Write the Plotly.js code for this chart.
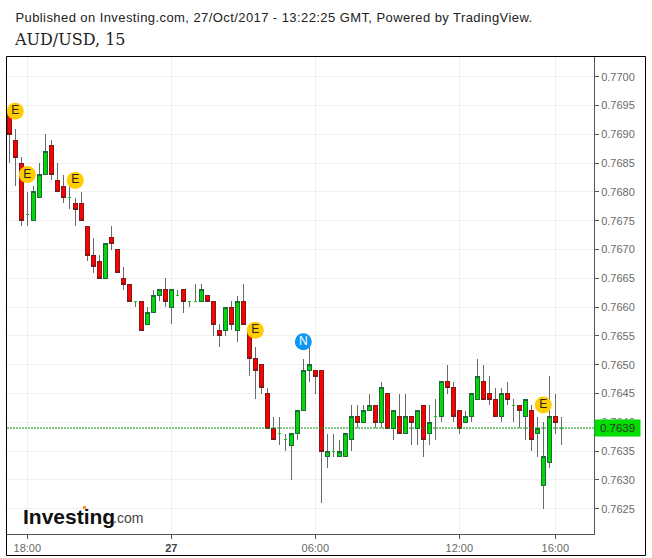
<!DOCTYPE html>
<html>
<head>
<meta charset="utf-8">
<script src="https://cdn.plot.ly/plotly-3.0.1.min.js"></script>
<style>
html,body{margin:0;padding:0;background:#fff}#chart{width:652px;height:558px}
.annotation[data-index="0"] text{letter-spacing:.42px}
.boxes path{shape-rendering:crispEdges}
</style>
</head>
<body>
<div id="chart"></div>
<script>
// Candle slot: 0 is 18:00 on the 26th, one slot is 15 minutes
const firstSlot = -3;
const openPips = [7694,7689,7685,7676,7675,7679,7683,7688,7682,7681,7679,7678,7678,7674,7669,7668,7665,7672,7670,7665,7664,7661,7661,7657,7659,7662,7663,7660,7662,7663,7661,7661,7661,7662,7661,7656,7656,7660,7656,7661,7656,7651,7650,7645,7639,7638,7637,7636,7638,7642,7649,7649,7649,7634,7635,7634,7634,7637,7641,7640,7642,7643,7640,7645,7639,7641,7638,7641,7639,7643,7638,7641,7641,7647,7646,7642,7640,7641,7644,7647,7645,7644,7641,7645,7643,7643,7641,7642,7638,7629,7633,7641,7639];
const highPips = [7695,7691,7686,7680,7681,7685,7690,7689,7685,7683,7681,7679,7680,7674,7672,7669,7671,7674,7670,7667,7664,7661,7661,7660,7663,7663,7665,7663,7663,7663,7661,7664,7664,7662,7661,7657,7660,7661,7662,7664,7656,7653,7650,7646,7641,7641,7638,7638,7642,7651,7653,7649,7649,7638,7638,7637,7638,7643,7643,7643,7645,7643,7647,7645,7642,7645,7645,7641,7642,7643,7643,7644,7647,7650,7647,7642,7642,7645,7651,7650,7648,7646,7646,7647,7644,7643,7644,7643,7641,7640,7648,7645,7641];
const lowPips = [7685,7681,7674,7674,7675,7679,7683,7682,7680,7678,7677,7674,7675,7668,7666,7665,7665,7670,7666,7663,7661,7660,7656,7657,7659,7661,7660,7657,7662,7659,7660,7661,7661,7661,7655,7653,7655,7656,7654,7657,7648,7644,7645,7639,7637,7636,7635,7630,7637,7642,7647,7645,7626,7632,7634,7634,7634,7635,7639,7640,7642,7639,7639,7639,7637,7638,7638,7636,7636,7634,7636,7637,7640,7645,7640,7638,7640,7640,7644,7644,7643,7641,7640,7643,7640,7639,7637,7635,7634,7625,7632,7638,7636];
const closePips = [7690,7686,7675,7676,7680,7683,7687,7683,7680,7679,7679,7677,7675,7669,7667,7665,7671,7671,7666,7664,7661,7661,7656,7659,7662,7663,7661,7663,7662,7661,7661,7661,7663,7661,7657,7655,7660,7657,7661,7657,7651,7649,7646,7639,7637,7638,7637,7638,7642,7649,7650,7648,7635,7635,7635,7635,7638,7641,7640,7642,7643,7640,7646,7639,7642,7638,7641,7640,7642,7637,7640,7641,7647,7646,7641,7639,7641,7645,7648,7644,7644,7641,7645,7644,7643,7642,7644,7637,7639,7634,7641,7640,7639];

const xTickSlots = [0, 24, 48, 72, 88];
const xTickLabels = ['18:00', '<b style="color:#444">27</b>', '06:00', '12:00', '16:00'];
const yTicks = [0.7625,0.7630,0.7635,0.7640,0.7645,0.7650,0.7655,0.7660,0.7665,0.7670,0.7675,0.7680,0.7685,0.7690,0.7695,0.7700];

const eventSlots = [-2, 0, 8, 38, 46, 86];
const eventPrices = [0.7694, 0.7683, 0.7682, 0.7656, 0.7654, 0.7643];
const eventLabels = ['E', 'E', 'E', 'E', 'N', 'E'];

const lastPrice = 0.7639;
const publishedText = 'Published on Investing.com, 27/Oct/2017 - 13:22:25 GMT, Powered by TradingView.';
const symbolText = 'AUD/USD, 15';

const slots = openPips.map((_, i) => firstSlot + i);
const price = v => v / 10000;
const open = openPips.map(price), high = highPips.map(price), low = lowPips.map(price), close = closePips.map(price);
const isDoji = slots.map((_, i) => openPips[i] === closePips[i]);
const pick = (arr, keep) => arr.filter((_, i) => isDoji[i] === keep);

const GREEN = '#00d80a', RED = '#ff0000';
const wicks = {
  type: 'candlestick', x: slots, open, high, low, close, whiskerwidth: 0, hoverinfo: 'skip',
  increasing: {line: {color: '#6a6a6a', width: 1}, fillcolor: '#6a6a6a'},
  decreasing: {line: {color: '#6a6a6a', width: 1}, fillcolor: '#6a6a6a'}
};
const bodyOpen = pick(open, false), bodyClose = pick(close, false);
const bodies = {
  type: 'candlestick', x: pick(slots, false), open: bodyOpen, close: bodyClose,
  high: bodyOpen.map((o, i) => Math.max(o, bodyClose[i])),
  low: bodyOpen.map((o, i) => Math.min(o, bodyClose[i])),
  whiskerwidth: 0,
  increasing: {line: {color: '#1d6b34', width: 1}, fillcolor: GREEN},
  decreasing: {line: {color: '#7d1a1a', width: 1}, fillcolor: RED}
};
const dojis = {
  type: 'candlestick', x: pick(slots, true), open: pick(open, true), close: pick(close, true),
  high: pick(close, true), low: pick(close, true), whiskerwidth: 0,
  increasing: {line: {color: GREEN, width: 1}, fillcolor: GREEN},
  decreasing: {line: {color: GREEN, width: 1}, fillcolor: GREEN}
};
const events = {
  type: 'scatter', mode: 'markers+text', x: eventSlots, y: eventPrices, text: eventLabels,
  textposition: 'middle center', cliponaxis: false,
  textfont: {family: 'Liberation Sans, Arial, sans-serif', size: 12,
             color: eventLabels.map(t => t === 'N' ? '#ffffff' : '#222222')},
  marker: {size: 17, color: eventLabels.map(t => t === 'N' ? '#0f96f0' : '#ffcc00'),
           line: {width: 0}}
};

const plotL = 7, plotR = 594, plotT = 57, plotB = 534;
const pw = plotR - plotL, ph = plotB - plotT;
const px = x => (x - plotL) / pw;
const py = y => (plotB - y) / ph;
const sans = 'Liberation Sans, Arial, sans-serif';

const layout = {
  width: 652, height: 558,
  margin: {l: plotL, r: 652 - plotR, t: plotT, b: 558 - plotB, pad: 0},
  paper_bgcolor: '#ffffff', plot_bgcolor: '#ffffff',
  showlegend: false, boxgap: 0.17, boxmode: 'overlay',
  title: {text: symbolText, x: 15 / 652, xanchor: 'left', y: 1 - 39 / 558, yanchor: 'middle',
          font: {family: 'DejaVu Serif, serif', size: 16, color: '#222222'}},
  xaxis: {
    type: 'linear', range: [(plotL - 27.3) / 6, (plotR - 27.3) / 6], rangeslider: {visible: false},
    tickmode: 'array', tickvals: xTickSlots, ticktext: xTickLabels,
    tickfont: {family: sans, size: 11, color: '#6a6a6a'},
    ticks: 'outside', ticklen: 4, tickcolor: '#555555',
    showgrid: true, gridcolor: '#f0f0f0', zeroline: false,
    showline: true, linecolor: '#555555', linewidth: 1
  },
  yaxis: {
    side: 'right', range: [0.7700 - (plotB - 76.7) / 57600, 0.7700 + (76.7 - plotT) / 57600],
    tickmode: 'array', tickvals: yTicks, tickformat: '.4f',
    tickfont: {family: sans, size: 11, color: '#6a6a6a'},
    ticks: 'outside', ticklen: 4, tickcolor: '#555555',
    showgrid: true, gridcolor: '#f0f0f0', zeroline: false,
    showline: true, linecolor: '#555555', linewidth: 1
  },
  shapes: [
    {type: 'line', xref: 'paper', yref: 'y', x0: 0, x1: 1, y0: lastPrice, y1: lastPrice,
     line: {color: '#009a08', width: 1, dash: '2px,1px'}},
    {type: 'rect', xref: 'paper', yref: 'paper', x0: px(6.5), x1: px(645.5), y0: py(555.5), y1: py(56.5),
     line: {color: '#000000', width: 1}, fillcolor: 'rgba(0,0,0,0)'},
    {type: 'rect', xref: 'paper', yref: 'paper', x0: px(83), x1: px(86), y0: py(509), y1: py(506),
     line: {width: 0}, fillcolor: '#f7941d'}
  ],
  annotations: [
    {xref: 'paper', yref: 'paper', x: px(30), y: py(17), xanchor: 'left', yanchor: 'middle', showarrow: false,
     text: publishedText, font: {family: sans, size: 13, color: '#222222'}},
    {xref: 'paper', yref: 'y', x: 1, y: lastPrice, xanchor: 'left', yanchor: 'middle', showarrow: false,
     text: lastPrice.toFixed(4), bgcolor: '#00dd00', width: 45, height: 16, borderpad: 0,
     font: {family: sans, size: 11.5, color: '#333333'}},
    {xref: 'paper', yref: 'paper', x: px(21), y: py(516), xanchor: 'left', yanchor: 'middle', showarrow: false,
     text: '<b>Investing</b>', font: {family: sans, size: 21, color: '#111111'}},
    {xref: 'paper', yref: 'paper', x: px(111), y: py(518), xanchor: 'left', yanchor: 'middle', showarrow: false,
     text: '.com', font: {family: sans, size: 14, color: '#444444'}}
  ]
};
Plotly.newPlot('chart', [wicks, bodies, dojis, events], layout, {staticPlot: true, displayModeBar: false});
</script>
</body>
</html>
